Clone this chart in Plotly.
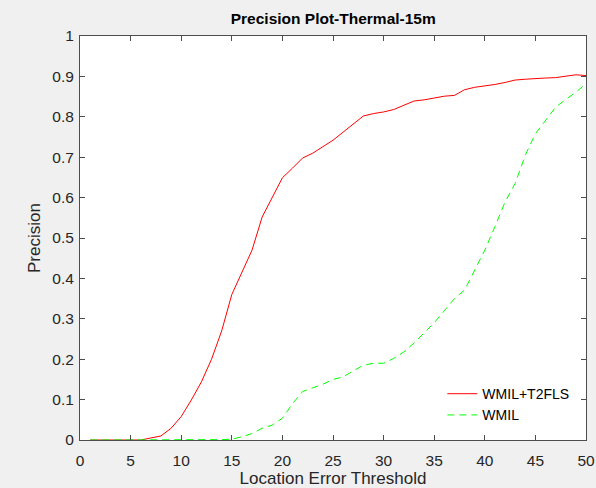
import plotly.graph_objects as go

thresholds = list(range(1, 51))
wmil_t2fls = [0, 0, 0, 0, 0, 0.0, 0.005, 0.01, 0.029, 0.058,
              0.099, 0.144, 0.20, 0.27, 0.36, 0.416, 0.47, 0.552, 0.60, 0.649,
              0.673, 0.698, 0.71, 0.725, 0.742, 0.762, 0.783, 0.802, 0.808, 0.812,
              0.818, 0.828, 0.839, 0.842, 0.847, 0.851, 0.853, 0.867, 0.873, 0.876,
              0.88, 0.885, 0.891, 0.893, 0.895, 0.896, 0.897, 0.90, 0.904, 0.902]
wmil = [0, 0, 0, 0, 0, 0, 0, 0, 0, 0,
        0, 0, 0, 0.001, 0.002, 0.008, 0.016, 0.029, 0.037, 0.054,
        0.09, 0.12, 0.129, 0.138, 0.15, 0.156, 0.171, 0.185, 0.19, 0.19,
        0.202, 0.218, 0.24, 0.265, 0.29, 0.32, 0.35, 0.371, 0.42, 0.47,
        0.528, 0.589, 0.635, 0.705, 0.758, 0.791, 0.824, 0.843, 0.861, 0.882]

x_ticks = list(range(0, 51, 5))
y_ticks = [0, 0.1, 0.2, 0.3, 0.4, 0.5, 0.6, 0.7, 0.8, 0.9, 1]
y_tick_text = ["0", "0.1", "0.2", "0.3", "0.4", "0.5", "0.6", "0.7", "0.8", "0.9", "1"]

FONT = "Liberation Sans, Arial"

fig = go.Figure()
fig.add_trace(go.Scatter(x=thresholds, y=wmil_t2fls, mode="lines", name="WMIL+T2FLS",
                         line=dict(color="#ff0000", width=1)))
fig.add_trace(go.Scatter(x=thresholds, y=wmil, mode="lines", name="WMIL",
                         line=dict(color="#00ff00", width=1, dash="7px,5px")))

axis_common = dict(showline=True, linecolor="#4d4d4d", linewidth=1, mirror="ticks",
                   ticks="inside", ticklen=5, tickcolor="#4d4d4d", showgrid=False,
                   zeroline=False, automargin=False,
                   tickfont=dict(family=FONT, size=15.5, color="#262626"))

L, R, T, B = 80, 586.5, 36, 440

fig.update_layout(
    width=596, height=488,
    paper_bgcolor="#f0f0f0", plot_bgcolor="#ffffff",
    margin=dict(l=L, r=596 - R, t=T, b=488 - B),
    title=dict(text="<b>Precision Plot-Thermal-15m</b>", x=(L + R) / 2 / 596, xanchor="center",
               y=1 - 19 / 488, yanchor="middle",
               font=dict(family=FONT, size=15.5, color="#000000")),
    xaxis=dict(range=[0, 50], tickvals=x_ticks, ticklabelstandoff=6,
               title=dict(text="Location Error Threshold", standoff=6,
                          font=dict(family=FONT, size=17, color="#262626")), **axis_common),
    yaxis=dict(range=[0, 1], tickvals=y_ticks, ticktext=y_tick_text, ticklabelstandoff=2,
               title=dict(text="Precision", standoff=7,
                          font=dict(family=FONT, size=17, color="#262626")), **axis_common),
    legend=dict(x=0.977, xanchor="right", y=0.022, yanchor="bottom", bgcolor="#ffffff",
                borderwidth=0, font=dict(family=FONT, size=14, color="#000000"),
                tracegroupgap=0, itemwidth=30),
    showlegend=True,
)

fig.write_html("out.html")
